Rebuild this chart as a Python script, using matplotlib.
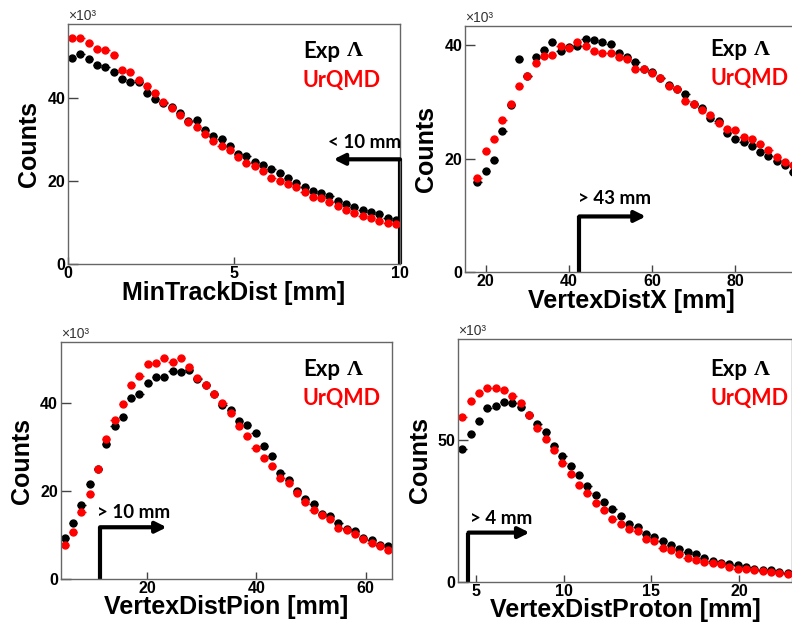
import numpy as np
import matplotlib
matplotlib.use("Agg")
from matplotlib import pyplot as plt

# counts are in units of 10^3, one value per histogram bin
# MinTrackDist: 40 bins, 0..10 mm
mtd_bins = (0.0, 10.0, 40)
mtd_exp = [49.8, 50.8, 49.5, 48.0, 47.7, 46.4, 44.8, 44.0, 43.9, 41.4,
           39.8, 39.0, 37.9, 36.5, 34.5, 34.7, 32.3, 30.9, 30.2, 28.4,
           26.6, 26.2, 24.6, 24.0, 23.0, 22.1, 20.9, 19.6, 18.7, 17.7,
           17.1, 16.5, 15.3, 14.5, 13.7, 13.1, 12.6, 12.0, 11.2, 10.7]
mtd_urqmd = [54.5, 54.6, 53.5, 51.9, 51.6, 50.5, 47.0, 46.5, 44.4, 43.1,
             41.3, 39.2, 37.7, 36.1, 34.4, 33.0, 31.4, 29.8, 28.4, 27.6,
             25.8, 24.3, 23.6, 22.5, 20.9, 20.1, 19.3, 18.5, 17.3, 16.1,
             15.9, 14.9, 13.9, 13.1, 12.4, 11.6, 11.1, 10.4, 10.0, 9.6]

# VertexDistX: 2 mm bins, 17..95 mm
vdx_bins = (17.0, 95.0, 39)
vdx_exp = [15.9, 17.8, 19.7, 24.9, 29.5, 37.6, 34.5, 38.0, 39.1, 40.5,
           39.0, 39.7, 39.8, 41.1, 40.9, 40.5, 40.2, 38.6, 38.0, 37.1,
           35.9, 35.3, 34.3, 33.0, 32.2, 31.4, 29.6, 28.9, 27.2, 26.7,
           24.6, 23.4, 22.9, 22.3, 21.1, 20.5, 19.5, 18.9, 17.7]
vdx_urqmd = [16.6, 21.3, 23.4, 26.9, 29.7, 32.8, 34.5, 36.8, 38.1, 38.3,
             39.8, 39.6, 40.6, 39.9, 39.0, 38.6, 38.6, 37.9, 37.5, 35.9,
             35.9, 35.1, 34.2, 32.8, 32.2, 30.2, 29.6, 28.6, 27.7, 26.3,
             25.2, 25.1, 23.9, 23.4, 22.6, 21.5, 20.3, 19.4, 18.9]

# VertexDistPion: 40 bins
vdpi_bins = (4.2, 64.9, 40)
vdpi_exp = [9.4, 12.8, 16.8, 21.5, 24.9, 30.6, 34.7, 36.9, 41.0, 42.1,
            44.6, 45.9, 45.9, 47.2, 46.9, 47.4, 45.5, 44.1, 41.9, 39.5,
            38.3, 35.8, 34.9, 33.2, 30.2, 27.9, 24.1, 22.5, 20.0, 18.1,
            17.0, 14.9, 14.3, 12.8, 11.3, 10.9, 9.4, 8.9, 7.7, 7.5]
vdpi_urqmd = [7.7, 10.8, 15.3, 19.3, 24.9, 31.8, 36.2, 39.7, 44.1, 46.0,
              48.7, 49.1, 50.1, 49.2, 50.1, 48.1, 45.6, 44.0, 41.9, 40.0,
              37.6, 34.7, 32.4, 29.7, 27.5, 25.7, 23.0, 21.9, 19.5, 17.5,
              15.7, 14.6, 13.6, 11.7, 11.1, 10.2, 9.1, 8.2, 7.5, 6.6]

# VertexDistProton: 40 bins, 4..23 mm
vdp_bins = (4.0, 23.0, 40)
vdp_exp = [46.7, 52.2, 56.6, 61.1, 62.0, 63.4, 62.8, 61.4, 58.7, 55.4,
           52.6, 47.9, 44.4, 40.8, 37.5, 33.7, 30.5, 28.1, 25.6, 23.1,
           20.3, 19.3, 16.7, 15.8, 14.4, 12.8, 11.4, 10.5, 9.7, 8.2,
           7.3, 6.7, 6.1, 5.8, 5.2, 4.6, 4.2, 4.0, 3.4, 3.2]
vdp_urqmd = [57.9, 63.7, 66.4, 68.4, 68.1, 67.6, 65.5, 62.8, 58.7, 54.3,
             50.1, 46.4, 41.9, 37.8, 34.0, 31.4, 27.9, 25.2, 22.2, 20.3,
             18.7, 17.9, 15.2, 14.4, 12.0, 11.1, 9.9, 8.5, 7.6, 7.0,
             6.7, 6.1, 5.2, 4.6, 4.4, 4.0, 3.7, 3.4, 3.2, 2.8]

# cut markers: (cut value, arrow height, arrow tip, label)
mtd_cut = (10.0, 25.3, 8.0, "< 10 mm")
vdx_cut = (42.5, 9.8, 58.5, "> 43 mm")
vdpi_cut = (11.4, 11.8, 23.6, "> 10 mm")
vdp_cut = (4.58, 17.3, 8.06, "> 4 mm")

W, H = 792, 626
MAIN_FONT = "Liberation Sans"
NOTE_FONT = "Lato"


def bin_centers(bins):
    lo, hi, n = bins
    edges = np.linspace(lo, hi, n + 1)
    return 0.5 * (edges[1:] + edges[:-1]), (hi - lo) / n / 2


def add_panel(fig, box, bins, exp, urqmd, xlim, ylim, xticks, yticks, xlabel,
              cut, label_off, cut_text_px, legend_px):
    l, t, r, b = box
    ax = fig.add_axes([l / W, 1 - b / H, (r - l) / W, (b - t) / H])
    x, hw = bin_centers(bins)
    ax.errorbar(x, exp, xerr=hw, fmt="o", color="black", ms=5, elinewidth=1,
                capsize=0)
    ax.errorbar(x, urqmd, xerr=hw, fmt="o", color="red", ms=5, elinewidth=1,
                capsize=0)
    ax.set_xlim(*xlim)
    ax.set_ylim(*ylim)
    ax.set_xticks(xticks)
    ax.set_yticks(yticks)
    ax.tick_params(direction="in", top=False, right=False, width=1,
                   color="#444444", pad=2, labelsize=11.5)
    ax.tick_params(axis="y", length=7)
    ax.tick_params(axis="x", length=5, pad=1.5)
    for lab in ax.get_xticklabels() + ax.get_yticklabels():
        lab.set_fontfamily(MAIN_FONT)
        lab.set_fontweight("bold")
    for sp in ax.spines.values():
        sp.set_color("#666666")
        sp.set_linewidth(1)
    ax.set_xlabel(xlabel, fontsize=18, fontweight="bold", family=MAIN_FONT)
    ax.set_ylabel("Counts", fontsize=18, fontweight="bold", family=MAIN_FONT)
    ax.yaxis.set_label_coords(-0.08, 0.5)
    ax.xaxis.set_label_coords(0.5, -label_off / (b - t))
    ax.text(0, 1.005, "×10³", transform=ax.transAxes, ha="left", va="bottom",
            fontsize=10, family=MAIN_FONT, color="#333333")

    # cut arrow
    cx, cy, tip, ctext = cut
    ax.plot([cx, cx], [0, cy], color="black", lw=3, clip_on=False,
            solid_capstyle="butt")
    ax.annotate("", xy=(tip, cy), xytext=(cx, cy),
                arrowprops=dict(arrowstyle="-|>", lw=3, color="black",
                                mutation_scale=16, shrinkA=0, shrinkB=0),
                annotation_clip=False)
    fig.text(cut_text_px[0] / W, 1 - cut_text_px[1] / H, ctext, ha="left",
             va="center", fontsize=13.5, fontweight="bold", family=NOTE_FONT)

    # legend text
    lx, ly = legend_px
    fig.text(lx / W, 1 - ly / H, "Exp", ha="left", va="center", fontsize=16,
             fontweight="bold", family=NOTE_FONT)
    fig.text((lx + 44) / W, 1 - ly / H, "Λ", ha="left", va="center",
             fontsize=16, fontweight="bold", family="Liberation Serif")
    fig.text(lx / W, 1 - (ly + 29) / H, "UrQMD", ha="left", va="center",
             fontsize=15.5, fontweight="bold", family=NOTE_FONT, color="red")
    return ax


fig = plt.figure(figsize=(W / 100, H / 100), dpi=100)

add_panel(fig, (68, 24, 400, 264), mtd_bins, mtd_exp, mtd_urqmd,
          (0, 10), (0, 58), [0, 5, 10], [0, 20, 40], "MinTrackDist [mm]",
          mtd_cut, 17, (328, 143), (303, 51))
add_panel(fig, (465, 26, 797.6, 272), vdx_bins, vdx_exp, vdx_urqmd,
          (15, 95), (0, 43.4), [20, 40, 60, 80], [0, 20, 40],
          "VertexDistX [mm]", vdx_cut, 17, (578, 199), (710, 50))
add_panel(fig, (60.7, 342, 392.3, 579.3), vdpi_bins, vdpi_exp, vdpi_urqmd,
          (4.2, 64.9), (0, 53.8), [20, 40, 60], [0, 20, 40],
          "VertexDistPion [mm]", vdpi_cut, 16, (97, 513), (303, 370))
add_panel(fig, (458.3, 339, 791.7, 581.7), vdp_bins, vdp_exp, vdp_urqmd,
          (4, 23), (0, 85.5), [5, 10, 15, 20], [0, 50],
          "VertexDistProton [mm]", vdp_cut, 16.5, (470, 519), (710, 370))

fig.savefig("out.png", dpi=100)
